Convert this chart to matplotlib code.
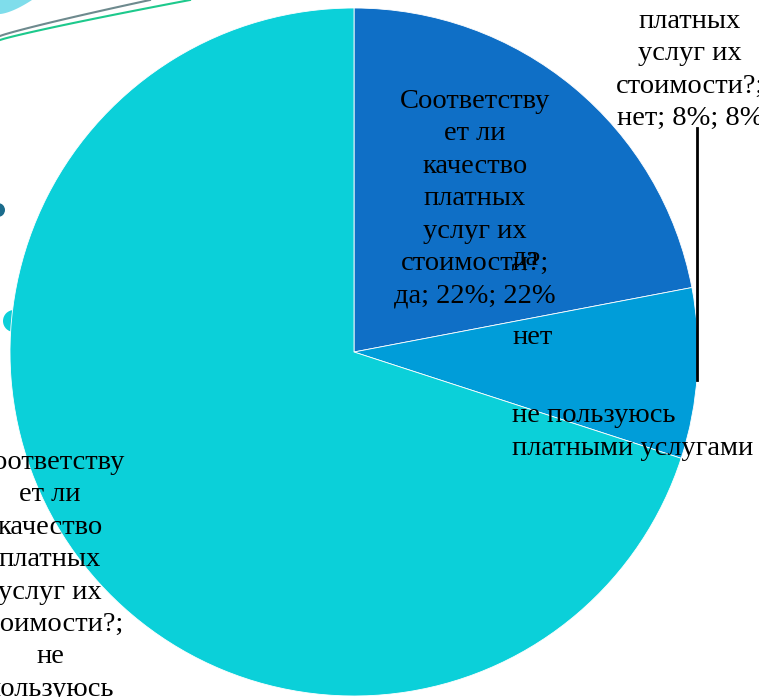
import matplotlib.pyplot as plt
from matplotlib.patches import Circle
import numpy as np

plt.rcParams['font.family'] = ['Liberation Serif', 'DejaVu Serif']

# данные диаграммы
question = 'Соответству\nет ли\nкачество\nплатных\nуслуг их\nстоимости?;'
categories = ['да', 'нет', 'не пользуюсь\nплатными услугами']
short_names = ['да', 'нет', 'не\nпользуюсь\nплатными\nуслугами']
shares = [22, 8, 70]
colors = ['#0F6FC6', '#009DD9', '#0BD0D9']

W, H = 759, 697
fig = plt.figure(figsize=(W / 100, H / 100), dpi=100)
ax = fig.add_axes([0, 0, 1, 1])

# фоновые украшения слайда
t = np.linspace(0, 1, 50)
ax.fill(np.r_[0, 32 * t, 0], np.r_[H, H - 14 + 14 * t ** 1.5, H], color='#7FDDEB', lw=0)
ax.plot(150 * t, H - 36 + 36 * t ** 0.9, color='#6E8A8E', lw=1.5)
ax.plot(190 * t, H - 40 + 40 * t ** 0.9, color='#1DC98C', lw=1.5)
ax.add_patch(Circle((-2, H - 210), 7, color='#1B6C8C', lw=0))
ax.add_patch(Circle((14, H - 321), 11, color=colors[2], lw=0))

cx, cy, r = 354, H - 352, 344
ax.pie(shares, colors=colors, startangle=90, counterclock=False,
       center=(cx, cy), radius=r,
       wedgeprops=dict(edgecolor='white', linewidth=0.6))

fs = 20.5
ls = 1.39

# подписи данных
label_pos = [(475, 89, 'top'), (690, 131, 'bottom'), (50, 450, 'top')]
for name, val, (x, y, va) in zip(short_names, shares, label_pos):
    if val == 70:
        txt = '%s\n%s;\n%d%%; %d%%' % (question, name, val, val)
    else:
        txt = '%s\n%s; %d%%; %d%%' % (question, name, val, val)
    ax.text(x, H - y, txt, ha='center', va=va, fontsize=fs,
            linespacing=ls, color='black')

# выноска для "нет"
ax.plot([697, 697], [H - 128, H - 380], color='black', lw=2)

# легенда
leg_y = [258, 337, 432]
for cat, y in zip(categories, leg_y):
    ax.text(512, H - y, cat, ha='left', va='center',
            fontsize=fs, linespacing=ls)

ax.set_xlim(0, W)
ax.set_ylim(0, H)
ax.set_aspect('auto')
ax.axis('off')
fig.savefig('out.png', dpi=100)
